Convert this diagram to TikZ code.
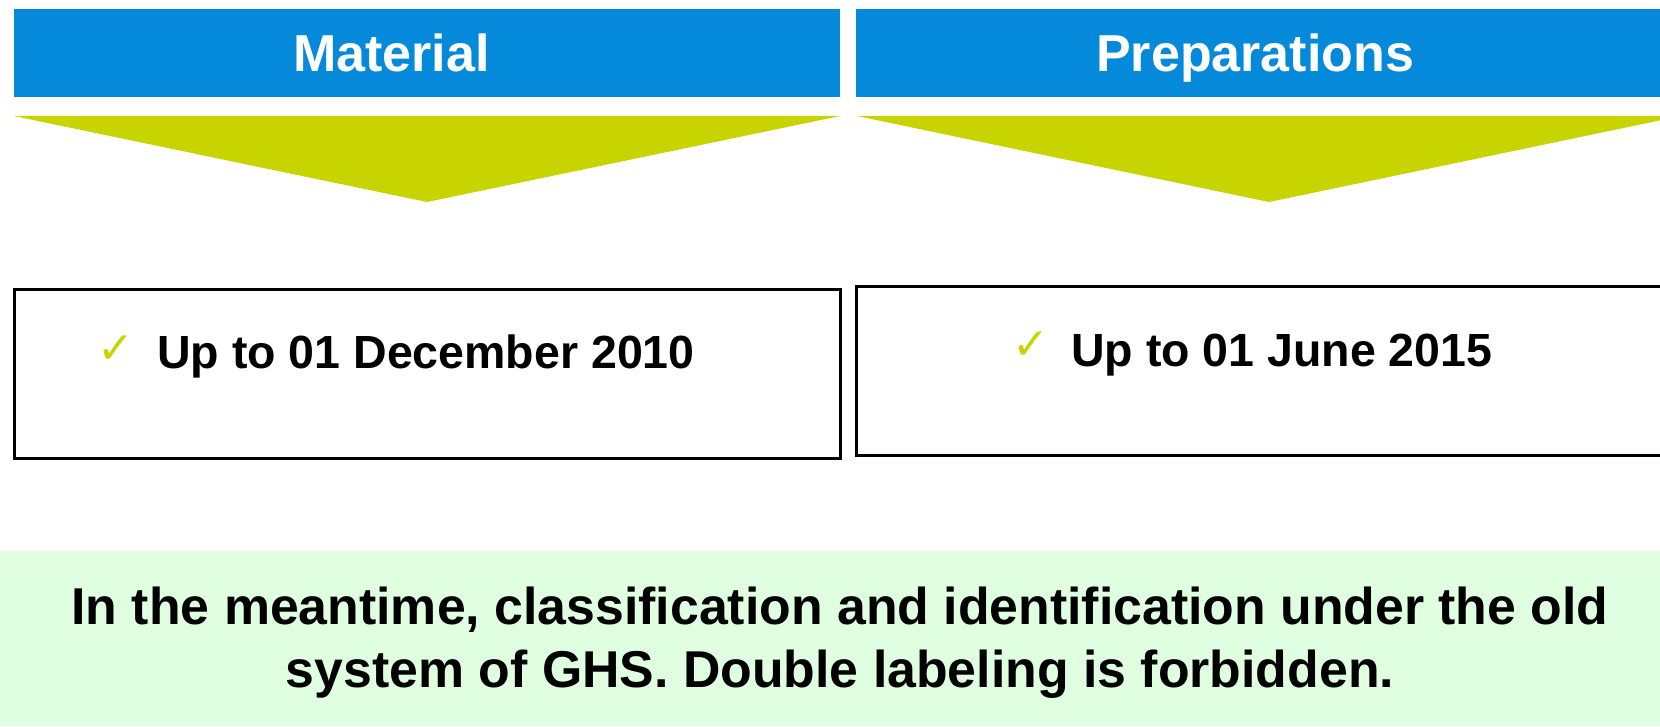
\documentclass[tikz,border=0pt]{standalone}
\usepackage{fontspec}
\setmainfont{Liberation Sans}
\newfontfamily\symfont{DejaVu Sans}
\usetikzlibrary{positioning}
\definecolor{hdrblue}{HTML}{0489DB}
\definecolor{limegreen}{HTML}{C8D400}
\definecolor{notegreen}{HTML}{E0FFE0}
\tikzset{
  hdr/.style={fill=hdrblue, minimum width=826pt, minimum height=88pt, inner sep=0pt, outer sep=0pt, anchor=south west},
  hdrtext/.style={text=white, font=\fontsize{52}{60}\selectfont\bfseries, anchor=base west, inner sep=0pt},
  datebox/.style={draw=black, line width=3pt, minimum width=826pt, minimum height=169pt, inner sep=0pt, outer sep=0pt, anchor=south west},
  datetext/.style={font=\fontsize{46.5}{56}\selectfont\bfseries, anchor=base west, inner sep=0pt},
  checkmark/.style={text=limegreen, font=\symfont\fontsize{44}{50}\selectfont, inner sep=0pt},
  notetext/.style={font=\fontsize{51.8}{63}\selectfont\bfseries, anchor=base, inner sep=0pt},
}
\begin{document}
\begin{tikzpicture}[x=1pt, y=1pt]
    \clip (0,0) rectangle (1660,726);
    \fill[white] (0,0) rectangle (1660,726);
    %% header bars
    \node[hdr] (matbar) at (14,629) {};
    \node[hdr] (prepbar) at (856,629) {};
    \node[hdrtext] (mattitle) at (293,654) {Material};
    \node[hdrtext] (preptitle) at (1096,654) {Preparations};
    %% arrows
    \fill[limegreen] (14,610) -- (840,610) -- (427,524) -- cycle;
    \fill[limegreen] (857,610) -- (1681,610) -- (1269,524) -- cycle;
    %% date boxes
    \node[datebox] (matbox) at (14.5,267.5) {};
    \node[datebox, minimum width=840pt] (prepbox) at (856.5,270.5) {};
    \node[checkmark] (matcheck) at (115.5,376) {✓};
    \node[checkmark] (prepcheck) at (1030.5,380) {✓};
    \node[datetext] (matdate) at (157,357) {Up to 01 December 2010};
    \node[datetext] (prepdate) at (1071,359) {Up to 01 June 2015};
    %% note
    \node[fill=notegreen, minimum width=1660pt, minimum height=175pt, inner sep=0pt, outer sep=0pt, anchor=south west] (note) at (0,0) {};
    \node[notetext] (noteone) at (840,102) {In the meantime, classification and identification under the old};
    \node[notetext] (notetwo) at (840,39) {system of GHS. Double labeling is forbidden.};
\end{tikzpicture}
\end{document}
